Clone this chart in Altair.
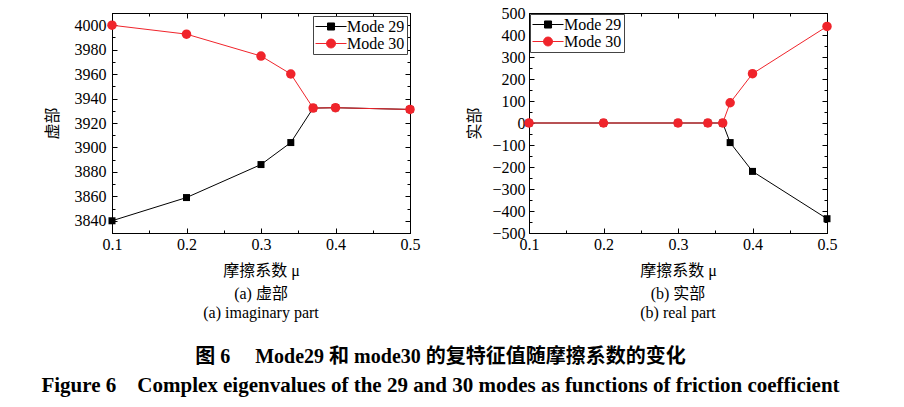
import altair as alt
import pandas as pd

# ---------------- data ----------------
series = ["Mode 29", "Mode 30"]
colors = ["#000000", "#f0242b"]

mu_imag = [0.1, 0.2, 0.3, 0.34, 0.37, 0.4, 0.5]
imag_mode29 = [3840, 3859, 3886, 3904, 3932.2, 3932.5, 3931.1]
imag_mode30 = [4000, 3992.7, 3974.8, 3960.1, 3932.2, 3932.5, 3931.1]

mu_real = [0.1, 0.2, 0.3, 0.34, 0.36, 0.37, 0.4, 0.5]
real_mode29 = [0, 0, 0, 0, 0, -89, -220, -435]
real_mode30 = [0, 0, 0, 0, 0, 92, 224, 439]

x_ticks = [0.1, 0.15, 0.2, 0.25, 0.3, 0.35, 0.4, 0.45, 0.5]
imag_ticks = [3830, 3840, 3850, 3860, 3870, 3880, 3890, 3900, 3910, 3920,
              3930, 3940, 3950, 3960, 3970, 3980, 3990, 4000, 4010]
real_ticks = [-500, -450, -400, -350, -300, -250, -200, -150, -100, -50, 0,
              50, 100, 150, 200, 250, 300, 350, 400, 450, 500]

SERIF = "Liberation Serif"
CJK = "Liberation Serif, Noto Sans CJK SC"


def long_df(mu, a, b):
    rows = []
    for s, vals in zip(series, [a, b]):
        for m, v in zip(mu, vals):
            rows.append({"mu": m, "val": v, "series": s})
    return pd.DataFrame(rows)


df_imag = long_df(mu_imag, imag_mode29, imag_mode30)
df_real = long_df(mu_real, real_mode29, real_mode30)

# legend symbols: a line segment with the marker in its middle
sq = "M-1,0H2.875M0.5,-0.44H1.38V0.44H0.5Z"
ci = "M-1,0H2.875M1.5,0A0.56,0.56 0 1 1 0.38,0A0.56,0.56 0 1 1 1.5,0Z"

X_MAJOR = "abs(datum.value*10 - round(datum.value*10)) < 0.001"


def tsize(test):
    return {"condition": {"test": test, "value": -5}, "value": -3}


def panel(df, ydomain, yticks, ymajor, ytitle, caption, legend_orient,
          ylabpad, ytitlepad, legoffset):
    xscale = alt.Scale(domain=[0.1, 0.5], nice=False, zero=False)
    yscale = alt.Scale(domain=ydomain, nice=False, zero=False)
    common = dict(domainColor="black", tickColor="black", labelColor="black",
                  titleColor="black", labelFont=SERIF, labelFontSize=16,
                  titleFont=CJK, titleFontSize=16, titleFontWeight="normal",
                  grid=False, labelFlush=False, labelOverlap=False)
    xb = alt.X("mu:Q", scale=xscale, axis=alt.Axis(
        orient="bottom", values=x_ticks, tickSize=tsize(X_MAJOR),
        labelExpr=f"({X_MAJOR}) ? format(datum.value, '.1f') : ''",
        labelPadding=8, title="摩擦系数 μ", titlePadding=8, **common))
    yl = alt.Y("val:Q", scale=yscale, axis=alt.Axis(
        orient="left", values=yticks, tickSize=tsize(ymajor),
        labelExpr=f"({ymajor}) ? format(datum.value, 'd') : ''",
        labelPadding=ylabpad, title=ytitle, titlePadding=ytitlepad, **common))
    xt = alt.X("mu:Q", scale=xscale, axis=alt.Axis(
        orient="top", values=x_ticks, tickSize=tsize(X_MAJOR), labels=False,
        title=None, domainColor="black", tickColor="black", grid=False))
    yr = alt.Y("val:Q", scale=yscale, axis=alt.Axis(
        orient="right", values=yticks, tickSize=tsize(ymajor), labels=False,
        title=None, domainColor="black", tickColor="black", grid=False))

    cscale = alt.Scale(domain=series, range=colors)
    lines = alt.Chart(df).mark_line(strokeWidth=1, clip=False).encode(
        x=xb, y=yl, color=alt.Color("series:N", scale=cscale, legend=None))
    pts = alt.Chart(df).mark_point(filled=True, opacity=1, size=60).encode(
        x=xt, y=yr,
        color=alt.Color("series:N", scale=cscale, legend=None),
        shape=alt.Shape("series:N", scale=alt.Scale(domain=series, range=["square", "circle"]), legend=None),
        size=alt.Size("series:N", scale=alt.Scale(domain=series, range=[49, 90]), legend=None))
    leg = alt.Legend(title=None, orient=legend_orient, offset=legoffset)
    legend_layer = alt.Chart(df).transform_filter("false").mark_point(
        filled=True, opacity=1, size=256, strokeWidth=1).encode(
        color=alt.Color("series:N", scale=cscale, legend=leg),
        stroke=alt.Stroke("series:N", scale=cscale, legend=leg),
        shape=alt.Shape("series:N", scale=alt.Scale(domain=series, range=[sq, ci]), legend=leg))
    return alt.layer(lines, pts, legend_layer).resolve_scale(
        color="independent", shape="independent", stroke="independent", size="independent"
    ).properties(
        width=298, height=220,
        title=alt.TitleParams(text=caption, orient="bottom", anchor="middle",
                              font=CJK, fontSize=16, fontWeight="normal",
                              color="black", lineHeight=19, offset=8))


left = panel(df_imag, [3830, 4010], imag_ticks, "datum.value % 20 == 0", "虚部",
             ["(a) 虚部", "(a) imaginary part"], "top-right", 11, 14, 3)
right = panel(df_real, [-500, 500], real_ticks, "datum.value % 100 == 0", "实部",
              ["(b) 实部", "(b) real part"], "top-left", 9, 9, 1)

chart = alt.hconcat(left, right, spacing=119, bounds="flush").properties(
    padding={"left": 41, "top": 4, "right": 10, "bottom": 3},
    title=alt.TitleParams(
        text="图 6\u3000 Mode29 和 mode30 的复特征值随摩擦系数的变化",
        subtitle="Figure 6\u2003Complex eigenvalues of the 29 and 30 modes as functions of friction coefficient",
        orient="bottom", anchor="middle", font=CJK, fontSize=20, fontWeight="bold",
        color="black", subtitleFont=SERIF, subtitleFontSize=21, subtitleFontWeight="bold",
        subtitleColor="black", subtitlePadding=8, offset=25)
).configure_view(stroke="black", strokeWidth=1).configure_axis(
    labelFont=SERIF
).configure_legend(
    labelFont=SERIF, labelFontSize=16, labelColor="black", strokeColor="#444444",
    fillColor="white", padding=2, symbolStrokeWidth=1, symbolSize=256,
    labelOffset=15, rowPadding=0, cornerRadius=0
)

chart.save("out.html", embed_options={"renderer": "svg", "actions": False})
